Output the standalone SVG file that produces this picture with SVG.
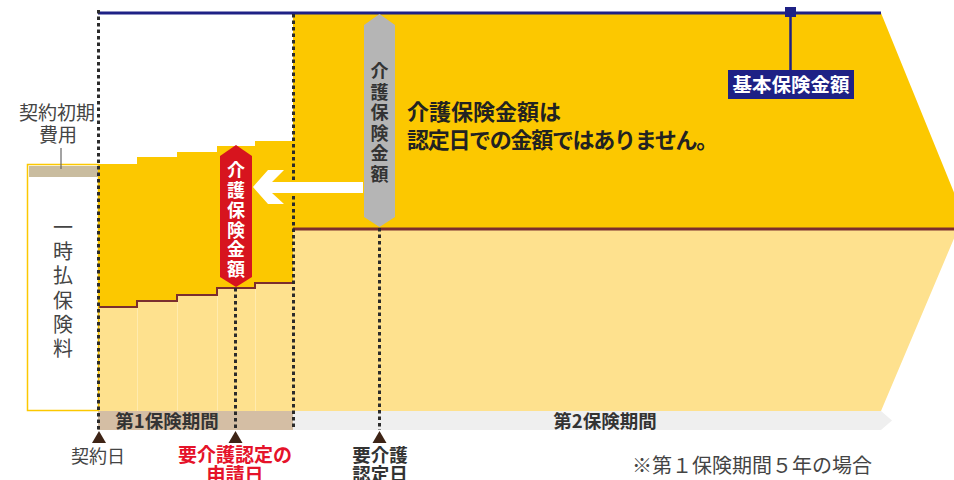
<svg xmlns="http://www.w3.org/2000/svg" width="954" height="480" viewBox="0 0 954 480">
<defs>
<style>
text{font-family:"Noto Sans CJK JP","Noto Sans",sans-serif;}
.dot{stroke:#2b2b2b;stroke-width:3;stroke-dasharray:3.5 3;fill:none;}
.tri{fill:#3e2416;}
.bold{font-weight:bold;}
</style>
</defs>
<rect width="954" height="480" fill="#fff"/>
<g id="areas">
<polygon points="98,300 293,280 293,229 958,229 881,411 98,411" fill="#FEE18E"/>
<polygon points="293,13 881,13 964,217 959,229 293,229" fill="#FCC800"/>
<polygon points="98,164 137,164 137,157 177,157 177,152 217,152 217,146 255,146 255,141 293,141 293,283 255,283 255,288 217,288 217,295 177,295 177,301 137,301 137,307 98,307" fill="#FCC800"/>
<g stroke="#FFEBAE" stroke-width="1">
<line x1="137.5" y1="308" x2="137.5" y2="411"/>
<line x1="177.5" y1="302" x2="177.5" y2="411"/>
<line x1="217.5" y1="296" x2="217.5" y2="411"/>
<line x1="255.5" y1="289" x2="255.5" y2="411"/>
</g>
<polyline points="98,307 137,307 137,301 177,301 177,295 217,295 217,288 255,288 255,283 293,283" fill="none" stroke="#7B2E2E" stroke-width="2"/>
<line x1="293" y1="229" x2="954" y2="229" stroke="#7B2E2E" stroke-width="3"/>
</g>
<g id="left-box">
<rect x="27.5" y="164.5" width="71" height="246" fill="#fff" stroke="#FCC800" stroke-width="1.5"/>
<rect x="29" y="166" width="69" height="11" fill="#C9BC9F"/>
<line x1="61" y1="148" x2="61" y2="169" stroke="#666" stroke-width="1.2"/>
<text text-anchor="middle" x="57" y="120" style="font-size:19px;fill:#444">契約初期</text>
<text text-anchor="middle" x="58" y="142" style="font-size:19px;fill:#444">費用</text>
<text text-anchor="middle" style="font-size:20px;fill:#444">
<tspan x="63" y="235">一</tspan><tspan x="63" y="259">時</tspan><tspan x="63" y="283">払</tspan><tspan x="63" y="308">保</tspan><tspan x="63" y="332">険</tspan><tspan x="63" y="356">料</tspan>
</text>
</g>
<g id="period-bars">
<rect x="98" y="411" width="195" height="19" fill="#D4BEA4"/>
<polygon points="293,411 881,411 892,420.5 881,430 293,430" fill="#EFEFEF"/>
<text class="bold" text-anchor="middle" x="167" y="427.5" style="font-size:18.5px;fill:#333">第1保険期間</text>
<text class="bold" text-anchor="middle" x="605" y="427.5" style="font-size:18.5px;fill:#333">第2保険期間</text>
</g>
<g id="basic-amount">
<line x1="98" y1="13" x2="881" y2="13" stroke="#1E2185" stroke-width="3"/>
<rect x="785" y="7" width="11" height="10" fill="#1E2185"/>
<line x1="790.5" y1="15" x2="790.5" y2="71" stroke="#1E2185" stroke-width="2.5"/>
<rect x="728" y="70" width="126" height="29" fill="#1E2185"/>
<text class="bold" text-anchor="middle" x="791" y="92" style="font-size:19.5px;fill:#fff">基本保険金額</text>
</g>
<g id="connectors">
<line class="dot" x1="98.5" y1="10" x2="98.5" y2="430"/>
<line class="dot" x1="293.5" y1="14" x2="293.5" y2="430"/>
<line class="dot" x1="235.5" y1="288" x2="235.5" y2="430"/>
<line class="dot" x1="379.5" y1="228" x2="379.5" y2="430"/>
<polygon class="tri" points="99,431 106,443 92,443"/>
<polygon class="tri" points="235.5,431 242.5,443 228.5,443"/>
<polygon class="tri" points="379.5,431 386.5,443 372.5,443"/>
<polygon points="253,187 268,170 284,170 272,182 363,182 363,193 272,193 284,204 268,204" fill="#fff"/>
</g>
<g id="red-balloon">
<polygon points="236,145 252,156 252,277 236,287 220,277 220,156" fill="#D7141E"/>
<text class="bold" text-anchor="middle" style="font-size:18px;fill:#fff">
<tspan x="236" y="176.5">介</tspan><tspan x="236" y="196.5">護</tspan><tspan x="236" y="216.5">保</tspan><tspan x="236" y="236.5">険</tspan><tspan x="236" y="256">金</tspan><tspan x="236" y="275.5">額</tspan>
</text>
</g>
<g id="gray-pill">
<polygon points="379.5,14 395,25 395,217 379.5,227 364,217 364,25" fill="#B5B5B5"/>
<text class="bold" text-anchor="middle" style="font-size:18px;fill:#333">
<tspan x="379.5" y="78">介</tspan><tspan x="379.5" y="98.5">護</tspan><tspan x="379.5" y="119">保</tspan><tspan x="379.5" y="139.5">険</tspan><tspan x="379.5" y="160">金</tspan><tspan x="379.5" y="180.5">額</tspan>
</text>
</g>
<g id="note">
<text class="bold" x="407" y="120" style="font-size:22px;fill:#222">介護保険金額は</text>
<text class="bold" x="407" y="148" style="font-size:22px;fill:#222;letter-spacing:-1.3px">認定日での金額ではありません。</text>
</g>
<g id="labels">
<text text-anchor="middle" x="98" y="463" style="font-size:18px;fill:#444">契約日</text>
<text class="bold" text-anchor="middle" x="235" y="462" style="font-size:19px;fill:#E5132A">要介護認定の</text>
<text class="bold" text-anchor="middle" x="235" y="482" style="font-size:19px;fill:#E5132A">申請日</text>
<text class="bold" text-anchor="middle" x="380" y="462" style="font-size:18.5px;fill:#333">要介護</text>
<text class="bold" text-anchor="middle" x="380" y="481" style="font-size:18.5px;fill:#333">認定日</text>
<text text-anchor="middle" x="752" y="473" style="font-size:20px;fill:#444">※第１保険期間５年の場合</text>
</g>
</svg>
